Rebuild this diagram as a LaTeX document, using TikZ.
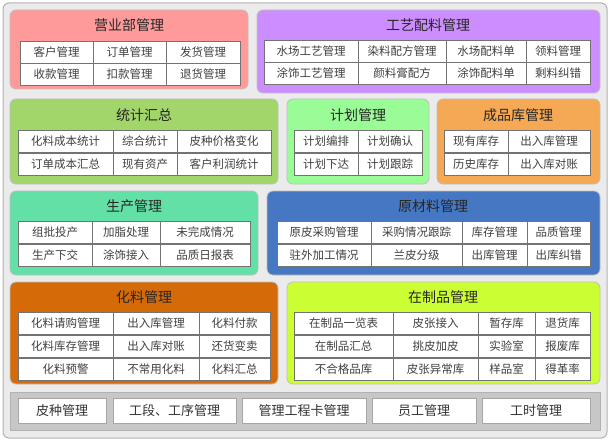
\documentclass[tikz,border=0pt]{standalone}
\usepackage{fontspec}
\setmainfont{Noto Sans CJK SC}
\tikzset{
  panel/.style={draw=black!25, rounded corners=6pt, line width=0.8pt},
  title/.style={font=\fontsize{14}{16}\selectfont, text=black!85, inner sep=0pt},
  cell/.style={draw=black!55, fill=white, inner sep=0pt, minimum height=22pt, font=\fontsize{11.5}{13}\selectfont, text=black!75},
  button/.style={draw=black!35, fill=white, inner sep=0pt, minimum height=25pt, font=\fontsize{13}{15}\selectfont, text=black!80}
}
\definecolor{salesred}{HTML}{FF9A9A}
\definecolor{craftpurple}{HTML}{CC8EFF}
\definecolor{statgreen}{HTML}{A2D66A}
\definecolor{planmint}{HTML}{9AFC96}
\definecolor{goodsorange}{HTML}{F5A955}
\definecolor{prodmint}{HTML}{62E0A6}
\definecolor{rawblue}{HTML}{4677C2}
\definecolor{chemorange}{HTML}{D46A08}
\definecolor{wiplime}{HTML}{CCFF33}
\newcommand{\cellrow}[2]{% #1 = row centre y, #2 = list x1/x2/text
  \foreach \a/\b/\t in {#2}
    \node[cell, minimum width={(\b-\a)*1pt}] at ({(\a+\b)/2},#1) {\t};}
\begin{document}
\begin{tikzpicture}[x=1pt, y=-1pt]
  \useasboundingbox (0,0) rectangle (610,441);
  \draw[draw=black!30, fill=black!8, rounded corners=6pt, line width=1pt] (3,3) rectangle (607,438);

  % sales
  \draw[panel, fill=salesred] (10,10) rectangle (248,89);
  \node[title] (sales) at (129,25) {营业部管理};
  \cellrow{52}{20/93/客户管理, 93/166/订单管理, 166/240/发货管理}
  \cellrow{74}{20/93/收款管理, 93/166/扣款管理, 166/240/退货管理}

  % craft
  \draw[panel, fill=craftpurple] (257,10) rectangle (600,93);
  \node[title] (craft) at (428,25) {工艺配料管理};
  \cellrow{51}{264/358/水场工艺管理, 358/446/染料配方管理, 446/526/水场配料单, 526/590/领料管理}
  \cellrow{73}{264/358/涂饰工艺管理, 358/446/颜料膏配方, 446/526/涂饰配料单, 526/590/剩料纠错}

  % statistics
  \draw[panel, fill=statgreen] (10,99) rectangle (278,184);
  \node[title] (stat) at (144,115) {统计汇总};
  \cellrow{141}{18/113/化料成本统计, 113/177/综合统计, 177/271/皮种价格变化}
  \cellrow{164}{18/113/订单成本汇总, 113/177/现有资产, 177/271/客户利润统计}

  % plan
  \draw[panel, fill=planmint] (287,99) rectangle (429,184);
  \node[title] (plan) at (358,115) {计划管理};
  \cellrow{141}{294/358/计划编排, 358/422/计划确认}
  \cellrow{164}{294/358/计划下达, 358/422/计划跟踪}

  % finished goods
  \draw[panel, fill=goodsorange] (437,99) rectangle (600,184);
  \node[title] (goods) at (518,115) {成品库管理};
  \cellrow{141}{444/508/现有库存, 508/590/出入库管理}
  \cellrow{164}{444/508/历史库存, 508/590/出入库对账}

  % production
  \draw[panel, fill=prodmint] (10,191) rectangle (258,275);
  \node[title] (prod) at (134,206) {生产管理};
  \cellrow{232}{18/92/组批投产, 92/160/加脂处理, 160/250/未完成情况}
  \cellrow{255}{18/92/生产下交, 92/160/涂饰接入, 160/250/品质日报表}

  % raw material
  \draw[panel, fill=rawblue] (267,191) rectangle (600,275);
  \node[title] (raw) at (433,206) {原材料管理};
  \cellrow{232}{277/371/原皮采购管理, 371/462/采购情况跟踪, 462/527/库存管理, 527/590/品质管理}
  \cellrow{255}{277/371/驻外加工情况, 371/462/兰皮分级, 462/527/出库管理, 527/590/出库纠错}

  % chemicals
  \draw[panel, fill=chemorange] (10,282) rectangle (278,384);
  \node[title] (chem) at (144,297) {化料管理};
  \cellrow{323}{18/113/化料请购管理, 113/199/出入库管理, 199/270/化料付款}
  \cellrow{346}{18/113/化料库存管理, 113/199/出入库对账, 199/270/还货变卖}
  \cellrow{369}{18/113/化料预警, 113/199/不常用化料, 199/270/化料汇总}

  % work in progress
  \draw[panel, fill=wiplime] (287,282) rectangle (600,384);
  \node[title] (wip) at (443,297) {在制品管理};
  \cellrow{323}{294/393/在制品一览表, 393/478/皮张接入, 478/535/暂存库, 535/590/退货库}
  \cellrow{346}{294/393/在制品汇总, 393/478/挑皮加皮, 478/535/实验室, 535/590/报废库}
  \cellrow{369}{294/393/不合格品库, 393/478/皮张异常库, 478/535/样品室, 535/590/得革率}

  % bottom bar
  \draw[draw=black!30, fill=black!22] (10,392) rectangle (600,430);
  \foreach \a/\b/\t in {18/106/皮种管理, 113/236/工段、工序管理, 242/366/管理工程卡管理, 372/476/员工管理, 482/590/工时管理}
    \node[button, minimum width={(\b-\a)*1pt}] at ({(\a+\b)/2},411) {\t};
\end{tikzpicture}
\end{document}
